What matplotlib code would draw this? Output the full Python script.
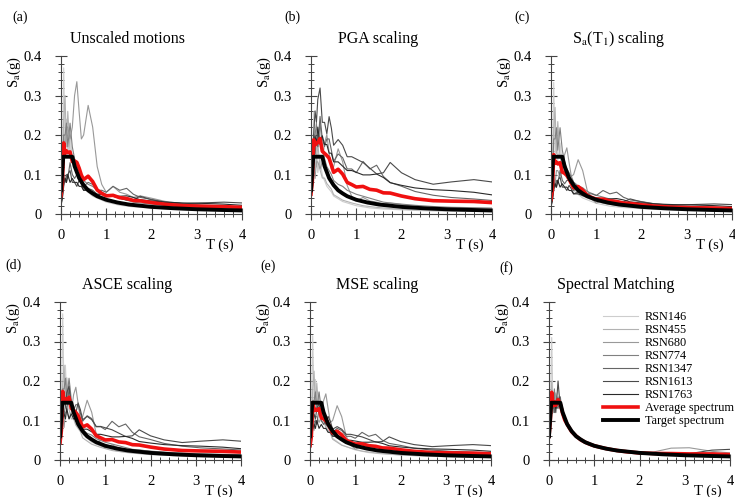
import matplotlib
matplotlib.use("Agg")
import matplotlib.pyplot as plt
import numpy as np

plt.rcParams["font.family"] = ["Liberation Serif", "DejaVu Serif"]
plt.rcParams["mathtext.fontset"] = "stix"

# Periods (s) shared by all record spectra
periods = [0, 0.03, 0.06, 0.09, 0.12, 0.15, 0.2, 0.25, 0.3, 0.35, 0.4, 0.45, 0.5,
           0.6, 0.7, 0.8, 0.9, 1.0, 1.15, 1.3, 1.45, 1.6, 1.75, 2.0, 2.3, 2.7,
           3.1, 3.6, 4.0]

record_names = ["RSN146", "RSN455", "RSN680", "RSN774", "RSN1347", "RSN1613", "RSN1763"]
record_colors = ["#cdcdcd", "#b2b2b2", "#999999", "#808080", "#656565", "#4a4a4a", "#2a2a2a"]

# Unscaled spectra Sa (g)
rsn146 = [0.06, 0.12, 0.37, 0.16, 0.24, 0.15, 0.20, 0.14, 0.12, 0.10, 0.09, 0.08, 0.065,
          0.055, 0.045, 0.04, 0.035, 0.03, 0.026, 0.022, 0.02, 0.018, 0.017, 0.015, 0.013,
          0.011, 0.01, 0.009, 0.008]
rsn455 = [0.06, 0.10, 0.24, 0.30, 0.17, 0.26, 0.16, 0.13, 0.13, 0.11, 0.10, 0.09, 0.07,
          0.06, 0.05, 0.045, 0.04, 0.036, 0.03, 0.027, 0.024, 0.022, 0.02, 0.017, 0.015,
          0.013, 0.011, 0.01, 0.009]
rsn680 = [0.08, 0.10, 0.20, 0.15, 0.22, 0.22, 0.19, 0.22, 0.30, 0.335, 0.26, 0.19, 0.20,
          0.275, 0.22, 0.12, 0.075, 0.055, 0.07, 0.055, 0.05, 0.042, 0.046, 0.04, 0.032,
          0.026, 0.023, 0.02, 0.018]
rsn774 = [0.05, 0.08, 0.20, 0.20, 0.23, 0.17, 0.23, 0.17, 0.14, 0.12, 0.11, 0.10, 0.085,
          0.075, 0.07, 0.06, 0.055, 0.05, 0.045, 0.04, 0.035, 0.03, 0.028, 0.025, 0.022,
          0.019, 0.017, 0.016, 0.015]
rsn1347 = [0.03, 0.05, 0.10, 0.08, 0.10, 0.09, 0.13, 0.10, 0.09, 0.10, 0.10, 0.085, 0.07,
           0.08, 0.075, 0.06, 0.06, 0.055, 0.07, 0.06, 0.065, 0.05, 0.042, 0.037, 0.03,
           0.025, 0.022, 0.02, 0.018]
rsn1613 = [0.02, 0.04, 0.07, 0.09, 0.08, 0.10, 0.11, 0.08, 0.08, 0.07, 0.085, 0.075, 0.06,
           0.065, 0.06, 0.05, 0.05, 0.048, 0.045, 0.04, 0.035, 0.036, 0.045, 0.036, 0.03,
           0.026, 0.028, 0.03, 0.028]
rsn1763 = [0.025, 0.04, 0.08, 0.09, 0.08, 0.10, 0.08, 0.09, 0.08, 0.08, 0.07, 0.07, 0.06,
           0.06, 0.055, 0.05, 0.05, 0.048, 0.045, 0.045, 0.046, 0.042, 0.036, 0.033, 0.03,
           0.028, 0.027, 0.025, 0.022]
unscaled = [rsn146, rsn455, rsn680, rsn774, rsn1347, rsn1613, rsn1763]

# Scale factors per record for each linear scaling method
pga_factors = [0.7, 0.7, 0.6, 1.0, 1.9, 2.9, 2.2]
sat1_factors = [0.9, 0.9, 0.5, 0.95, 0.85, 0.85, 0.85]
asce_factors = [1.0, 0.8, 0.55, 0.9, 1.4, 1.7, 1.3]
mse_factors = [0.85, 0.75, 0.5, 0.75, 1.0, 1.3, 1.0]

# Spectrally matched spectra Sa (g)
m146 = [0.06, 0.10, 0.31, 0.12, 0.16, 0.13, 0.15, 0.14, 0.12, 0.10, 0.09, 0.08, 0.072,
        0.06, 0.052, 0.045, 0.04, 0.036, 0.032, 0.028, 0.025, 0.022, 0.02, 0.018, 0.016,
        0.013, 0.011, 0.01, 0.009]
m455 = [0.06, 0.09, 0.20, 0.13, 0.15, 0.17, 0.14, 0.13, 0.12, 0.105, 0.09, 0.082, 0.07,
        0.062, 0.05, 0.046, 0.04, 0.037, 0.031, 0.029, 0.025, 0.023, 0.021, 0.018, 0.016,
        0.014, 0.012, 0.011, 0.01]
m680 = [0.06, 0.12, 0.14, 0.16, 0.13, 0.15, 0.16, 0.14, 0.12, 0.10, 0.095, 0.08, 0.075,
        0.06, 0.053, 0.046, 0.041, 0.036, 0.033, 0.028, 0.026, 0.023, 0.021, 0.019, 0.02,
        0.03, 0.031, 0.022, 0.018]
m774 = [0.06, 0.10, 0.15, 0.12, 0.18, 0.13, 0.14, 0.15, 0.12, 0.10, 0.09, 0.08, 0.07,
        0.058, 0.05, 0.044, 0.04, 0.035, 0.031, 0.028, 0.024, 0.022, 0.02, 0.017, 0.015,
        0.013, 0.011, 0.01, 0.009]
m1347 = [0.06, 0.11, 0.13, 0.15, 0.12, 0.14, 0.13, 0.16, 0.11, 0.10, 0.092, 0.08, 0.072,
         0.061, 0.051, 0.045, 0.039, 0.036, 0.032, 0.028, 0.025, 0.023, 0.021, 0.018, 0.017,
         0.016, 0.015, 0.018, 0.014]
m1613 = [0.06, 0.10, 0.14, 0.13, 0.15, 0.12, 0.20, 0.13, 0.12, 0.10, 0.09, 0.085, 0.07,
         0.062, 0.05, 0.044, 0.04, 0.036, 0.031, 0.027, 0.025, 0.022, 0.02, 0.018, 0.016,
         0.014, 0.016, 0.025, 0.027]
m1763 = [0.06, 0.10, 0.13, 0.15, 0.14, 0.13, 0.15, 0.14, 0.12, 0.10, 0.091, 0.08, 0.073,
         0.06, 0.052, 0.045, 0.04, 0.036, 0.032, 0.028, 0.025, 0.022, 0.021, 0.018, 0.016,
         0.014, 0.012, 0.011, 0.01]
matched = [m146, m455, m680, m774, m1347, m1613, m1763]

# Target design spectrum
target_T = [0, 0.05, 0.25, 0.3, 0.4, 0.5, 0.6, 0.7, 0.8, 1.0, 1.25, 1.5, 2.0, 2.5, 3.0, 3.5, 4.0]
target_Sa = [0.06, 0.145, 0.145, 0.121, 0.091, 0.073, 0.060, 0.052, 0.045, 0.036, 0.029,
             0.024, 0.018, 0.0145, 0.012, 0.0104, 0.009]

panel_titles = ["Unscaled motions", "PGA scaling", r"S$_\mathrm{a}$(T$_\mathrm{1}$) scaling",
                "ASCE scaling", "MSE scaling", "Spectral Matching"]
panel_tags = ["(a)", "(b)", "(c)", "(d)", "(e)", "(f)"]


def scaled(factors):
    return [np.array(r) * f for r, f in zip(unscaled, factors)]


panel_records = [
    [np.array(r) for r in unscaled],
    scaled(pga_factors),
    scaled(sat1_factors),
    scaled(asce_factors),
    scaled(mse_factors),
    [np.array(r) for r in matched],
]

# Axes placement (figure pixels), tag positions in pixels
W, H = 735, 497
axes_px = [(61, 214), (311, 214), (551, 214), (60, 460), (310, 460), (549, 460)]
tag_px = [(20, 17), (292, 17), (522, 17), (13, 265), (268, 266), (506, 268)]
ax_w, ax_h = 181, 158

fig = plt.figure(figsize=(W / 100, H / 100), dpi=100)
axis_color = "#444444"

for i in range(6):
    x0, y0 = axes_px[i]
    ax = fig.add_axes([x0 / W, (H - y0) / H, ax_w / W, ax_h / H])

    for rec, name, col in zip(panel_records[i], record_names, record_colors):
        ax.plot(periods, rec, color=col, lw=0.8, label=name)
    avg = np.mean(panel_records[i], axis=0)
    ax.plot(periods, avg, color="#f01010", lw=2.6, label="Average spectrum")
    ax.plot(target_T, target_Sa, color="black", lw=2.8, label="Target spectrum")

    ax.set_xlim(0, 4)
    ax.set_ylim(0, 0.4)
    ax.set_xticks([0, 1, 2, 3, 4])
    ax.set_xticks(np.arange(0, 4.01, 0.2), minor=True)
    ax.set_yticks([0, 0.1, 0.2, 0.3, 0.4], labels=["0", "0.1", "0.2", "0.3", "0.4"])
    ax.set_yticks(np.arange(0, 0.401, 0.02), minor=True)
    ax.tick_params(which="both", direction="inout", colors=axis_color, labelcolor="black",
                   labelsize=10.5)
    ax.tick_params(which="major", length=8, width=0.8)
    ax.tick_params(which="minor", length=5, width=0.7)
    ax.tick_params(axis="x", which="major", pad=7)
    ax.tick_params(axis="y", which="major", pad=10)
    for s in ["top", "right"]:
        ax.spines[s].set_visible(False)
    for s in ["left", "bottom"]:
        ax.spines[s].set_color(axis_color)
        ax.spines[s].set_linewidth(0.8)

    # x label sits under the last tick label, just left of "4"
    ax.text(0.955, -0.2, "T (s)", transform=ax.transAxes, ha="right", va="center",
            fontsize=10.5)
    ax.set_ylabel(r"S$_\mathrm{a}$(g)", loc="top", fontsize=10.5, labelpad=0)
    ax.text(0.37, 1.11, panel_titles[i], transform=ax.transAxes, ha="center",
            va="center", fontsize=11.5)
    fig.text(tag_px[i][0] / W, 1 - tag_px[i][1] / H, panel_tags[i], ha="center",
             va="center", fontsize=10)

    if i == 5:
        ax.legend(loc="upper left", bbox_to_anchor=(0.30, 0.94), frameon=False,
                  fontsize=8.8, handlelength=2.8, handletextpad=0.6, labelspacing=0.08,
                  borderpad=0, borderaxespad=0)

fig.savefig("out.png", dpi=100)
